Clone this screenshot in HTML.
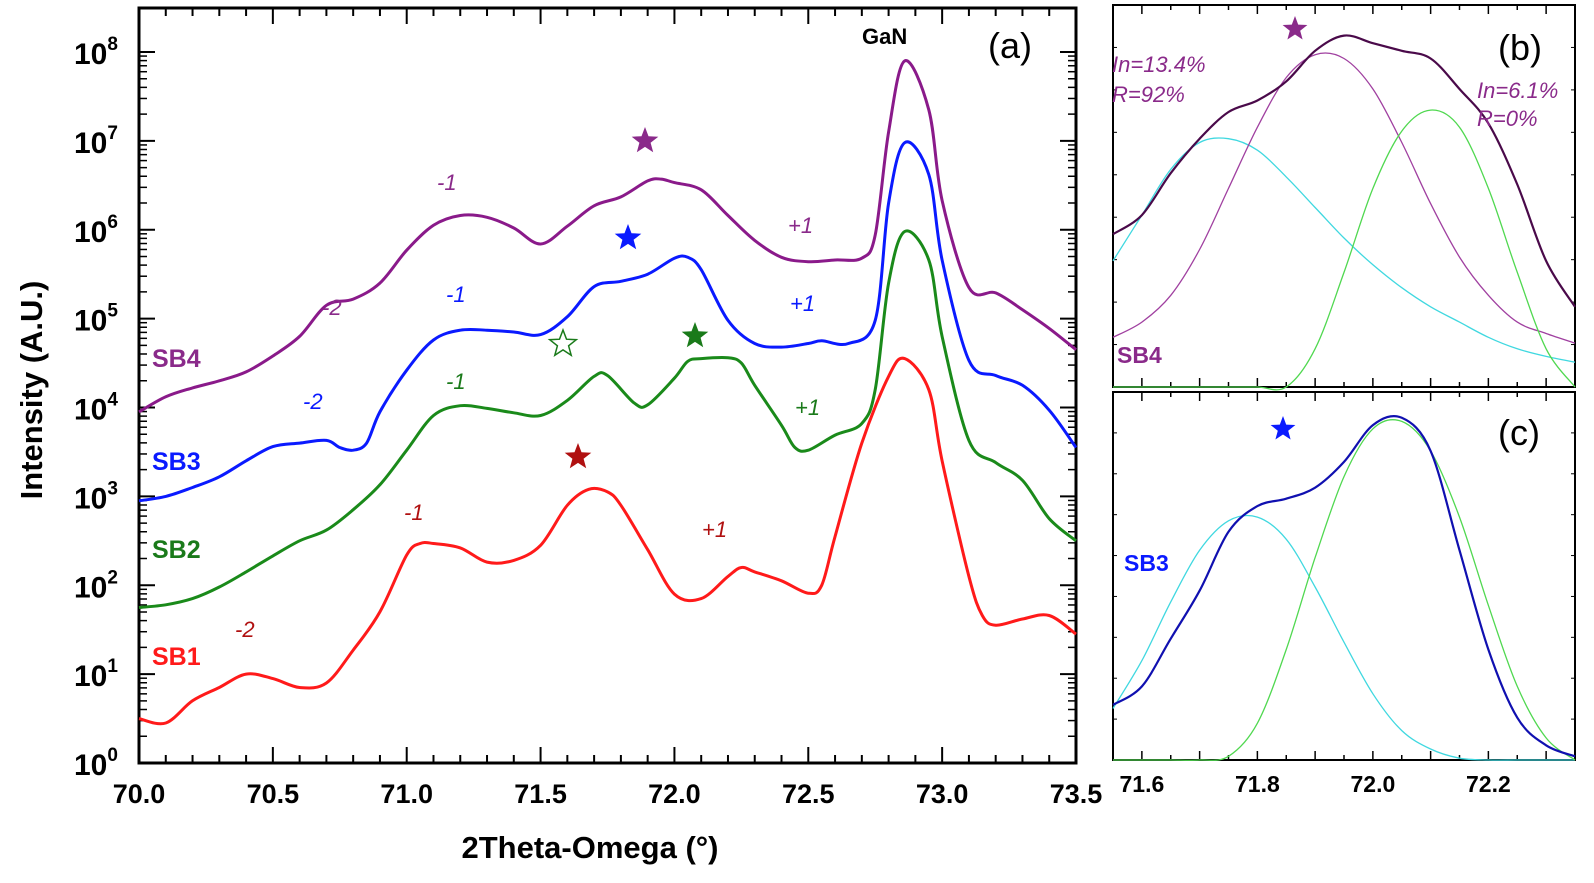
<!DOCTYPE html>
<html><head><meta charset="utf-8"><style>
html,body{margin:0;padding:0;background:#fff;}
svg{display:block;font-family:"Liberation Sans",Arial,sans-serif;}
</style></head><body>
<svg id="fig" width="1594" height="883" viewBox="0 0 1594 883" xmlns="http://www.w3.org/2000/svg">
<g id="main"></g>
<g id="pb"></g>
<g id="pc"></g>
</svg>
<script>
// ---- Panel (a) data: 2theta (deg) and log10 intensity ----
const sb1X = [70.0,70.1,70.2,70.3,70.4,70.5,70.6,70.7,70.8,70.9,71.0,71.05,71.1,71.2,71.3,71.4,71.5,71.6,71.68,71.75,71.8,71.9,72.0,72.1,72.2,72.25,72.3,72.4,72.5,72.55,72.6,72.7,72.8,72.86,72.95,73.0,73.1,73.15,73.2,73.3,73.4,73.5];
const sb1Y = [0.5,0.45,0.7,0.85,1.0,0.95,0.85,0.9,1.27,1.7,2.34,2.47,2.47,2.42,2.26,2.28,2.45,2.9,3.08,3.05,2.9,2.4,1.9,1.85,2.1,2.2,2.15,2.05,1.91,2.0,2.55,3.6,4.35,4.55,4.2,3.4,2.1,1.66,1.55,1.62,1.66,1.45];
const sb2X = [70.0,70.1,70.2,70.3,70.4,70.5,70.6,70.7,70.8,70.9,71.0,71.1,71.2,71.3,71.4,71.5,71.6,71.7,71.75,71.85,71.9,72.0,72.05,72.1,72.2,72.25,72.3,72.4,72.45,72.5,72.6,72.7,72.75,72.8,72.86,72.95,73.0,73.1,73.2,73.3,73.4,73.5];
const sb2Y = [1.75,1.78,1.85,1.98,2.15,2.33,2.5,2.62,2.85,3.13,3.52,3.91,4.02,3.99,3.94,3.91,4.08,4.35,4.36,4.05,4.03,4.33,4.52,4.55,4.56,4.5,4.25,3.8,3.55,3.52,3.69,3.82,4.2,5.4,5.98,5.66,4.8,3.63,3.38,3.18,2.75,2.5];
const sb3X = [70.0,70.1,70.2,70.3,70.4,70.5,70.6,70.7,70.75,70.8,70.85,70.9,71.0,71.1,71.2,71.3,71.4,71.5,71.6,71.7,71.8,71.9,72.0,72.05,72.1,72.2,72.3,72.4,72.5,72.55,72.65,72.75,72.8,72.86,72.95,73.0,73.1,73.2,73.3,73.4,73.5];
const sb3Y = [2.95,3.0,3.1,3.22,3.4,3.56,3.6,3.63,3.55,3.52,3.6,3.95,4.42,4.76,4.87,4.87,4.85,4.82,5.02,5.36,5.42,5.5,5.68,5.69,5.55,4.98,4.72,4.68,4.72,4.75,4.72,4.98,6.3,6.98,6.62,5.66,4.53,4.36,4.25,3.97,3.55];
const sb4X = [70.0,70.1,70.2,70.3,70.4,70.5,70.6,70.7,70.8,70.9,71.0,71.1,71.2,71.3,71.4,71.5,71.6,71.7,71.8,71.9,71.95,72.0,72.1,72.2,72.3,72.4,72.5,72.6,72.7,72.75,72.8,72.86,72.95,73.0,73.1,73.2,73.3,73.4,73.5];
const sb4Y = [3.95,4.12,4.22,4.3,4.4,4.58,4.8,5.15,5.22,5.4,5.77,6.05,6.16,6.14,6.02,5.84,6.04,6.27,6.37,6.55,6.57,6.53,6.45,6.16,5.88,5.69,5.64,5.66,5.68,5.94,7.1,7.9,7.35,6.33,5.35,5.29,5.1,4.89,4.65];
const yTickExp = [0,1,2,3,4,5,6,7,8];
const xTickLabels = ["70.0","70.5","71.0","71.5","72.0","72.5","73.0","73.5"];

// ---- Panel (b) data: normalized intensity, x 71.55..72.35 step 0.05 ----
const bX = [71.55,71.6,71.65,71.7,71.75,71.8,71.85,71.9,71.95,72.0,72.05,72.1,72.15,72.2,72.25,72.3,72.35];
const bData = [0.40,0.45,0.56,0.65,0.72,0.75,0.80,0.88,0.92,0.90,0.88,0.86,0.78,0.69,0.53,0.33,0.21];
const bCyan = [0.33,0.45,0.57,0.64,0.65,0.62,0.55,0.47,0.39,0.32,0.26,0.21,0.17,0.13,0.10,0.08,0.065];
const bPurple = [0.13,0.17,0.24,0.36,0.52,0.68,0.81,0.87,0.86,0.78,0.64,0.48,0.34,0.24,0.17,0.14,0.115];
const bGreen = [0,0,0,0,0,0,0,0.1,0.3,0.52,0.67,0.725,0.68,0.52,0.3,0.1,0.0];
// ---- Panel (c) data ----
const cData = [0.15,0.2,0.33,0.46,0.62,0.69,0.71,0.74,0.81,0.91,0.93,0.84,0.57,0.3,0.115,0.04,0.01];
const cCyan = [0.14,0.27,0.43,0.57,0.65,0.66,0.6,0.47,0.32,0.18,0.08,0.03,0.005,0,0,0,0];
const cGreen = [0,0,0,0,0.01,0.1,0.3,0.55,0.77,0.9,0.92,0.84,0.66,0.42,0.2,0.06,0.0];
const smallXTicks = ["71.6","71.8","72.0","72.2"];

const NS="http://www.w3.org/2000/svg";
function mk(tag,attrs,parent){const e=document.createElementNS(NS,tag);for(const k in attrs)e.setAttribute(k,attrs[k]);parent.appendChild(e);return e;}
function smooth(pts){let d="M"+pts[0][0].toFixed(1)+","+pts[0][1].toFixed(1);
 for(let i=0;i<pts.length-1;i++){const p0=pts[Math.max(0,i-1)],p1=pts[i],p2=pts[i+1],p3=pts[Math.min(pts.length-1,i+2)];
 const c1x=p1[0]+(p2[0]-p0[0])/6,c1y=p1[1]+(p2[1]-p0[1])/6,c2x=p2[0]-(p3[0]-p1[0])/6,c2y=p2[1]-(p3[1]-p1[1])/6;
 d+=" C"+c1x.toFixed(1)+","+c1y.toFixed(1)+" "+c2x.toFixed(1)+","+c2y.toFixed(1)+" "+p2[0].toFixed(1)+","+p2[1].toFixed(1);}
 return d;}

// ---- Panel (a) ----
const A=document.getElementById('main');
const L=139,R=1076,T=8,B=763;
const xs=v=>L+(v-70)*(R-L)/3.5;
const ysA=v=>B-v*88.875;
let fr=mk('rect',{x:L,y:T,width:R-L,height:B-T,fill:'none',stroke:'#000','stroke-width':3},A);


for(let i=0;i<=35;i++){const v=70+i*0.1;const x=xs(v);const major=i%5===0;const len=major?16:8;
 mk('line',{x1:x,y1:B,x2:x,y2:B-len,stroke:'#000','stroke-width':2},A);
 mk('line',{x1:x,y1:T,x2:x,y2:T+len,stroke:'#000','stroke-width':2},A);}
xTickLabels.forEach((s,i)=>{const t=mk('text',{x:xs(70+i*0.5),y:B+40,'text-anchor':'middle','font-size':27,'font-weight':'bold'},A);t.textContent=s;
 
 });
for(let d=0;d<=8;d++){const y=ysA(d);
 mk('line',{x1:L,y1:y,x2:L+16,y2:y,stroke:'#000','stroke-width':2},A);
 mk('line',{x1:R,y1:y,x2:R-16,y2:y,stroke:'#000','stroke-width':2},A);
 if(d<8)for(let m=2;m<=9;m++){const ym=ysA(d+Math.log10(m));
  mk('line',{x1:L,y1:ym,x2:L+8,y2:ym,stroke:'#000','stroke-width':1.5},A);
  mk('line',{x1:R,y1:ym,x2:R-8,y2:ym,stroke:'#000','stroke-width':1.5},A);}}
yTickExp.forEach(e=>{const t=mk('text',{x:74,y:ysA(e)+12,'font-size':30,'font-weight':'bold'},A);
 
 
 t.textContent='10';const s=mk('tspan',{dy:-14,'font-size':19},t);s.textContent=String(e);});
let yt=mk('text',{x:0,y:0,transform:'translate(42,390) rotate(-90)','text-anchor':'middle','font-size':31,'font-weight':'bold'},A);yt.textContent='Intensity (A.U.)';


let xt=mk('text',{x:590,y:858,'text-anchor':'middle','font-size':31,'font-weight':'bold'},A);xt.textContent='2Theta-Omega (°)';


const series=[[sb1X,sb1Y,'#ff1a1a','sb1'],[sb2X,sb2Y,'#1a8a1a','sb2'],[sb3X,sb3Y,'#0a1aff','sb3'],[sb4X,sb4Y,'#8a1a8a','sb4']];
series.forEach(s=>{const pts=s[0].map((x,i)=>[xs(x),ysA(s[1][i])]);
 const p=mk('path',{d:smooth(pts),fill:'none',stroke:s[2],'stroke-width':3,'stroke-linejoin':'round'},A);
 
 });
function txt(g,x,y,s,fill,size,w,style,name){const t=mk('text',{x:x,y:y,fill:fill,'font-size':size,'font-weight':w||'normal','font-style':style||'normal'},g);t.textContent=s;
 
 return t;}
txt(A,152,367,'SB4','#8a2a8a',25,'bold','normal','sb4-label');
txt(A,152,470,'SB3','#0a1aff',25,'bold','normal','sb3-label');
txt(A,152,558,'SB2','#1a7a1a',25,'bold','normal','sb2-label');
txt(A,152,665,'SB1','#ff1a1a',25,'bold','normal','sb1-label');
txt(A,862,44,'GaN','#000',22,'bold','normal','gan-label');
txt(A,988,58,'(a)','#000',36,'normal','normal','panel-a-label');
const ann=[[322,315,'-2','#8a2a8a'],[437,190,'-1','#8a2a8a'],[788,233,'+1','#8a2a8a'],[303,409,'-2','#0a1aff'],[446,302,'-1','#0a1aff'],[790,311,'+1','#0a1aff'],[446,389,'-1','#1a7a1a'],[795,415,'+1','#1a7a1a'],[235,637,'-2','#b01010'],[404,520,'-1','#b01010'],[702,537,'+1','#b01010']];
ann.forEach(a=>txt(A,a[0],a[1],a[2],a[3],22,'normal','italic','order-annotation'));
function star(g,cx,cy,r,fill,stroke,name){let pts=[];for(let i=0;i<10;i++){const ang=-Math.PI/2+i*Math.PI/5;const rr=i%2?r*0.42:r;pts.push((cx+rr*Math.cos(ang)).toFixed(1)+','+(cy+rr*Math.sin(ang)).toFixed(1));}
 const p=mk('polygon',{points:pts.join(' '),fill:fill,stroke:stroke,'stroke-width':1.5},g);
 
 }
star(A,645,141,14,'#8a2a8a','none','sb4-star');
star(A,628,238,14,'#0a1aff','none','sb3-star');
star(A,563,344,14,'#fff','#1a7a1a','sb2-open-star');
star(A,695,336,14,'#1a7a1a','none','sb2-star');
star(A,578,457,14,'#b01010','none','sb1-star');

// ---- Panels (b),(c) ----
const PL=1113,PR=1575;
const xb=v=>PL+(v-71.55)*(PR-PL)/0.8;
function panel(g,top,bot,label,labelY,curves,name){
 const f=mk('rect',{x:PL,y:top,width:PR-PL,height:bot-top,fill:'none',stroke:'#000','stroke-width':2},g);
 
 
 for(let i=0;i<=16;i++){const v=71.6+i*0.05;if(v>72.34)break;const x=xb(v);const len=i%2===0?9:5;
  mk('line',{x1:x,y1:bot,x2:x,y2:bot-len,stroke:'#000','stroke-width':1.5},g);
  mk('line',{x1:x,y1:top,x2:x,y2:top+len,stroke:'#000','stroke-width':1.5},g);}
 for(let k=1;k<9;k++){const y=top+(bot-top)*k/9;mk('line',{x1:PL,y1:y,x2:PL+4,y2:y,stroke:'#000','stroke-width':1},g);mk('line',{x1:PR,y1:y,x2:PR-4,y2:y,stroke:'#000','stroke-width':1},g);}
 const ysP=v=>bot-v*(bot-top);
 curves.forEach(c=>{const pts=bX.map((x,i)=>[xb(x),ysP(c[0][i])]);
  const p=mk('path',{d:smooth(pts),fill:'none',stroke:c[1],'stroke-width':c[2]},g);
  
  });
 txt(g,1498,labelY,label,'#000',36,'normal','normal',name+'-label');}
const PB=document.getElementById('pb'),PC=document.getElementById('pc');
panel(PB,5,387,'(b)',60,[[bCyan,'#40d8e0',1.3,'b-fit-cyan'],[bPurple,'#a040a0',1.3,'b-fit-purple'],[bGreen,'#50d850',1.3,'b-fit-green'],[bData,'#4a0a4a',2.2,'b-sb4-data']],'panel-b');
panel(PC,392,760,'(c)',445,[[cCyan,'#40d8e0',1.3,'c-fit-cyan'],[cGreen,'#50d850',1.3,'c-fit-green'],[cData,'#1010b0',2.2,'c-sb3-data']],'panel-c');
txt(PB,1117,363,'SB4','#8a2a8a',23,'bold','normal','panel-b-sb4-label');
txt(PC,1124,571,'SB3','#0a1aff',23,'bold','normal','panel-c-sb3-label');
txt(PB,1112,72,'In=13.4%','#8a2a8a',22,'normal','italic','in-13-label');
txt(PB,1112,102,'R=92%','#8a2a8a',22,'normal','italic','r-92-label');
txt(PB,1477,98,'In=6.1%','#8a2a8a',22,'normal','italic','in-6-label');
txt(PB,1477,126,'R=0%','#8a2a8a',22,'normal','italic','r-0-label');
star(PB,1295,29,13,'#8a2a8a','none','panel-b-star');
star(PC,1283,429,13,'#0a1aff','none','panel-c-star');
smallXTicks.forEach((s,i)=>{const t=txt(PC,xb(71.6+i*0.2),792,s,'#000',23,'bold','normal','small-x-tick-label');t.setAttribute('text-anchor','middle');});
</script>
</body></html>
